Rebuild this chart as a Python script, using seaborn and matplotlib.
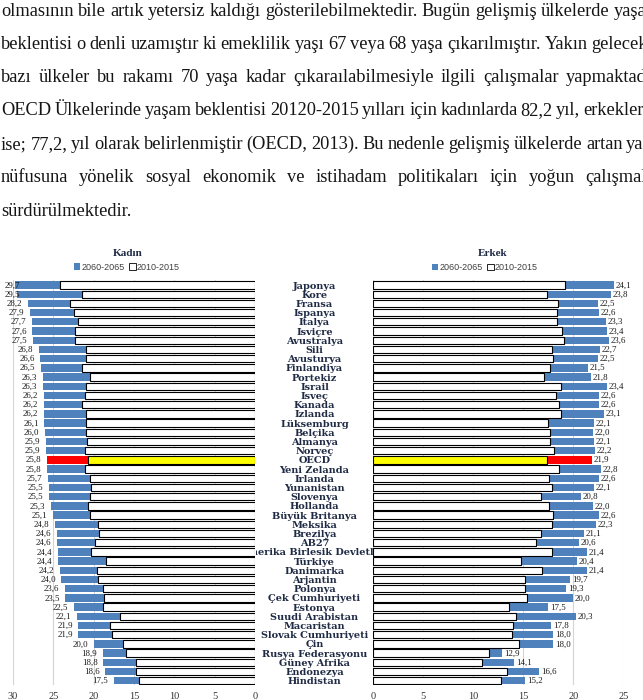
import matplotlib
matplotlib.use("Agg")
import matplotlib.pyplot as plt
import matplotlib.patheffects as pe
from matplotlib.patches import Patch
import seaborn as sns
import pandas as pd

# ---------------- data ----------------
countries = ["Japonya", "Kore", "Fransa", "Ispanya", "Italya", "Isviçre", "Avustralya",
             "Sili", "Avusturya", "Finlandiya", "Portekiz", "Israil", "Isveç", "Kanada",
             "Izlanda", "Lüksemburg", "Belçika", "Almanya", "Norveç", "OECD",
             "Yeni Zelanda", "Irlanda", "Yunanistan", "Slovenya", "Hollanda",
             "Büyük Britanya", "Meksika", "Brezilya", "AB27", "Amerika Birlesik Devletleri",
             "Türkiye", "Danimarka", "Arjantin", "Polonya", "Çek Cumhuriyeti", "Estonya",
             "Suudi Arabistan", "Macaristan", "Slovak Cumhuriyeti", "Çin",
             "Rusya Federasyonu", "Güney Afrika", "Endonezya", "Hindistan"]

women_2060 = [29.7, 29.5, 28.2, 27.9, 27.7, 27.6, 27.5, 26.8, 26.6, 26.5, 26.3, 26.3, 26.2,
              26.2, 26.2, 26.1, 26.0, 25.9, 25.9, 25.8, 25.8, 25.7, 25.5, 25.5, 25.3, 25.1,
              24.8, 24.6, 24.6, 24.4, 24.4, 24.2, 24.0, 23.6, 23.5, 22.5, 22.1, 21.9, 21.9,
              20.0, 18.9, 18.8, 18.6, 17.5]
women_2010 = [24.2, 21.5, 22.9, 22.4, 22.0, 22.3, 22.3, 21.0, 21.0, 21.4, 20.4, 20.9, 21.1,
              21.5, 20.9, 20.9, 21.0, 20.8, 21.1, 20.7, 21.1, 20.4, 20.3, 20.4, 20.7, 20.4,
              19.5, 19.4, 19.8, 20.3, 18.5, 19.6, 19.5, 18.9, 18.7, 18.8, 16.7, 18.0, 17.7,
              16.4, 16.0, 14.7, 14.8, 14.4]
men_2060 = [24.1, 23.8, 22.5, 22.6, 23.3, 23.4, 23.6, 22.7, 22.5, 21.5, 21.8, 23.4, 22.6,
            22.6, 23.1, 22.1, 22.0, 22.1, 22.2, 21.9, 22.8, 22.6, 22.1, 20.8, 22.0, 22.6,
            22.3, 21.1, 20.6, 21.4, 20.4, 21.4, 19.7, 19.3, 20.0, 17.5, 20.3, 17.8, 18.0,
            18.0, 12.9, 14.1, 16.6, 15.2]
men_2010 = [19.2, 17.4, 18.5, 18.4, 18.4, 18.9, 19.1, 17.9, 18.0, 17.7, 17.1, 18.8, 18.3,
            18.6, 18.8, 17.5, 17.7, 17.7, 18.1, 17.4, 18.6, 17.6, 17.9, 16.8, 17.6, 18.0,
            17.9, 16.8, 16.3, 17.9, 14.8, 16.9, 15.2, 15.2, 15.4, 13.6, 14.3, 14.0, 13.9,
            14.6, 11.6, 10.9, 13.4, 12.8]

xticks_left = [30, 25, 20, 15, 10, 5, 0]
xticks_right = [0, 5, 10, 15, 20, 25]
legend_labels = ["2060-2065", "2010-2015"]
panel_titles = ["Kadın", "Erkek"]
highlight = "OECD"

paragraph_lines = [
    "olmasının bile artık yetersiz kaldığı gösterilebilmektedir. Bugün gelişmiş ülkelerde yaşam",
    "beklentisi o denli uzamıştır ki emeklilik yaşı 67 veya 68 yaşa çıkarılmıştır. Yakın gelecekte",
    "bazı ülkeler bu rakamı 70 yaşa kadar çıkaraılabilmesiyle ilgili çalışmalar yapmaktadır.",
    "OECD Ülkelerinde yaşam beklentisi 20120-2015 yılları için kadınlarda 82,2 yıl, erkeklerde",
    "ise; 77,2, yıl olarak belirlenmiştir (OECD, 2013). Bu nedenle gelişmiş ülkelerde artan yaşlı",
    "nüfusuna yönelik sosyal ekonomik ve istihadam politikaları için yoğun çalışmalar",
    "sürdürülmektedir.",
]

# ---------------- style ----------------
sns.set_theme(style="white")
plt.rcParams['font.family'] = ['Liberation Serif', 'DejaVu Serif']

W, H = 643, 700
fig = plt.figure(figsize=(W / 100, H / 100), dpi=100)
fig.patch.set_facecolor('white')


def fx(px):
    return px / W


def fy(py):
    return 1 - py / H


BLUE = '#4F81BD'
NAVY = '#1F2A44'
n = len(countries)
df = pd.DataFrame({'country': countries, 'w60': women_2060, 'w10': women_2010,
                   'm60': men_2060, 'm10': men_2010})
blue_pal = {c: ('#FF0000' if c == highlight else BLUE) for c in countries}
white_pal = {c: ('#FFFF00' if c == highlight else '#FFFFFF') for c in countries}

top_px, bot_px = 280.4, 685.3
ax_b = fy(bot_px)
ax_h = (bot_px - top_px) / H

axL = fig.add_axes([fx(13), ax_b, fx(242), ax_h])
axR = fig.add_axes([fx(373.3), ax_b, fx(250), ax_h])
axM = fig.add_axes([fx(256), ax_b, fx(117), ax_h])

shadow = [pe.SimplePatchShadow(offset=(0.6, -0.7), shadow_rgbFace='#333333', alpha=0.9),
          pe.Normal()]

for ax, c60, c10, ticks, xl in [(axL, 'w60', 'w10', xticks_left, (30, 0)),
                                (axR, 'm60', 'm10', xticks_right, (0, 25))]:
    sns.barplot(data=df, y='country', x=c60, hue='country', palette=blue_pal,
                order=countries, hue_order=countries, orient='h', width=0.8,
                legend=False, ax=ax, linewidth=0, saturation=1, errorbar=None)
    nb = len(ax.patches)
    sns.barplot(data=df, y='country', x=c10, hue='country', palette=white_pal,
                order=countries, hue_order=countries, orient='h', width=0.8,
                legend=False, ax=ax, edgecolor='black', linewidth=0.8, saturation=1,
                errorbar=None)
    for p in ax.patches[nb:]:
        p.set_path_effects(shadow)
    ax.set_xlim(*xl)
    ax.set_ylim(n - 0.5, -0.5)
    ax.set_xticks(ticks)
    ax.set_xticklabels([str(t) for t in ticks])
    ax.set_yticks([])
    ax.set_xlabel('')
    ax.set_ylabel('')
    ax.grid(axis='x', color='#D4D4D4', lw=0.8)
    ax.grid(axis='y', visible=False)
    ax.set_axisbelow(True)
    for s in ax.spines.values():
        s.set_visible(False)
    ax.tick_params(axis='x', length=0, pad=5, labelsize=7.5, labelcolor='#333333')
    ax.set_facecolor('none')

# value labels
for i, v in enumerate(women_2060):
    axL.text(min(v + 0.7, 29.1), i + 0.05, f"{v:.1f}".replace('.', ','), ha='right',
             va='center', fontsize=6.4, color='#1a1a1a', clip_on=False)
for i, v in enumerate(men_2060):
    axR.text(v + 0.15, i + 0.05, f"{v:.1f}".replace('.', ','), ha='left',
             va='center', fontsize=6.4, color='#1a1a1a', clip_on=False)

# middle category labels (wide serif, clipped between the two panels)
axM.set_xlim(0, 1)
axM.set_ylim(n - 0.5, -0.5)
axM.axis('off')
for i, c in enumerate(countries):
    axM.text(0.5, i + 0.12, c, ha='center', va='center', fontsize=7.0, fontweight='bold',
             family='DejaVu Serif', color=NAVY, clip_on=True)

# titles and legends
for xc, title, lx, ly in [(128, panel_titles[0], 127, 267), (493, panel_titles[1], 485, 268)]:
    fig.text(fx(xc), fy(253), title, ha='center', va='center', fontsize=8,
             fontweight='bold', color=NAVY)
    fig.legend(handles=[Patch(facecolor=BLUE, edgecolor='none'),
                        Patch(facecolor='white', edgecolor='black', lw=0.6)],
               labels=legend_labels, loc='center', bbox_to_anchor=(fx(lx), fy(ly)),
               ncol=2, frameon=False, handlelength=0.7, handleheight=0.7,
               handletextpad=0.15, columnspacing=0.5, borderpad=0,
               prop={'family': 'Liberation Sans', 'size': 6.5}, labelcolor='#404040')

# paragraph text (justified, running past the right page edge as in the scan)
renderer = fig.canvas.get_renderer()


def text_width(s, fs):
    t = fig.text(0, 0, s, fontsize=fs, family='Liberation Serif')
    w = t.get_window_extent(renderer).width
    t.remove()
    return w


L, R = 1.0, 661.0
w0 = text_width(paragraph_lines[0], 12)
fs = 12 * (R - L) / w0
em = fs * 100 / 72
centers = [12, 45, 78, 111, 145, 178, 212]
for k, (line, yc) in enumerate(zip(paragraph_lines, centers)):
    base = yc + 0.23 * em
    if k < len(paragraph_lines) - 1:
        words = line.split(' ')
        widths = [text_width(w, fs) for w in words]
        gap = (R - L - sum(widths)) / (len(words) - 1)
        x = L
        for w, wd in zip(words, widths):
            fig.text(fx(x), fy(base), w, fontsize=fs, va='baseline', ha='left',
                     color='#151515')
            x += wd + gap
    else:
        fig.text(fx(L), fy(base), line, fontsize=fs, va='baseline', ha='left',
                 color='#151515')

fig.savefig('out.png', dpi=100, facecolor='white')
